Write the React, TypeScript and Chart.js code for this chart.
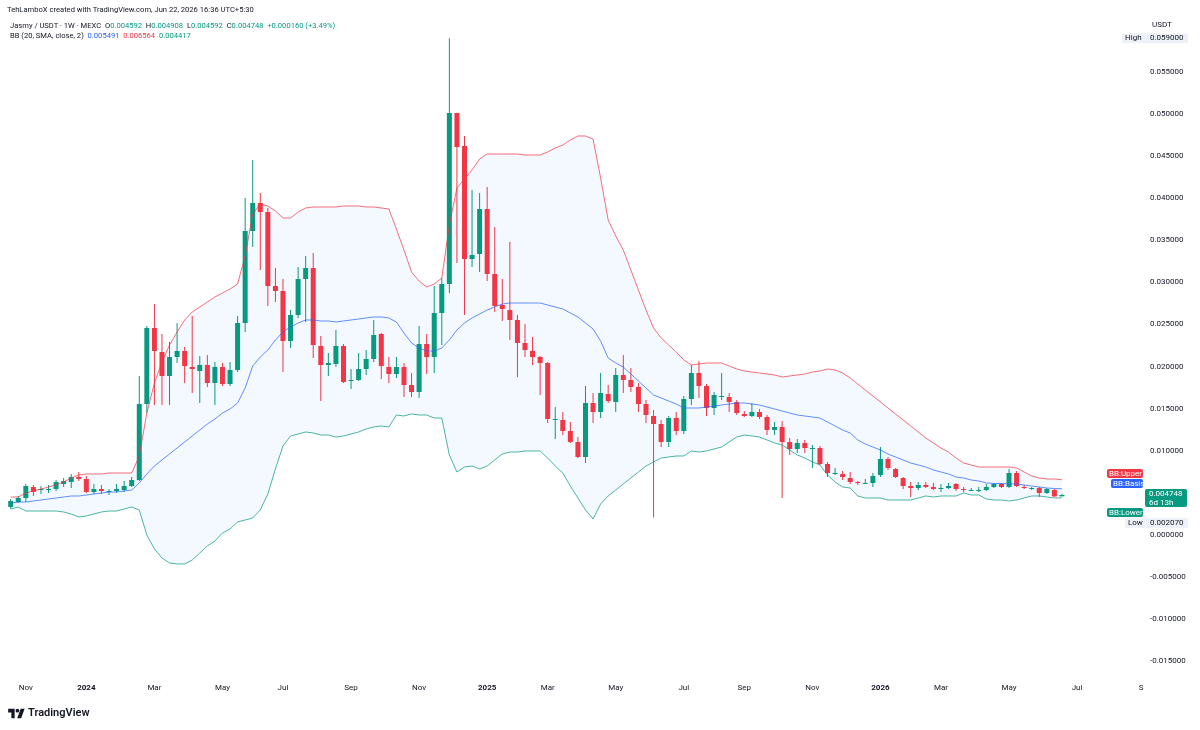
import React, { useEffect, useRef } from "react";
import { Chart, registerables } from "chart.js";

Chart.register(...registerables);

// ---------- DATA ----------
const CREDIT = "TehLamboX created with TradingView.com, Jun 22, 2026 16:36 UTC+5:30";
const SYMBOL = "Jasmy / USDT · 1W · MEXC";
const BB_TITLE = "BB (20, SMA, close, 2)";
const QUOTE = "USDT";
const COUNTDOWN = "6d 13h";
const START_DATE = Date.UTC(2023, 9, 23); // first weekly candle (Monday)
const MONTH_NAMES = ["Jan", "Feb", "Mar", "Apr", "May", "Jun", "Jul", "Aug", "Sep", "Oct", "Nov", "Dec"];

const opens = [
  0.003325, 0.003919, 0.004394, 0.0057, 0.005344, 0.005344, 0.005463, 0.006057, 0.006294, 0.006888,
  0.006651, 0.005107, 0.005463, 0.005225, 0.005225, 0.005344, 0.005819, 0.006532, 0.015558, 0.024584,
  0.021733, 0.018883, 0.02114, 0.021852, 0.019952, 0.019477, 0.020189, 0.018052, 0.019952, 0.017933,
  0.019595, 0.025177, 0.036103, 0.039428, 0.038359, 0.029571, 0.028977, 0.023039, 0.026127, 0.030403,
  0.031709, 0.022446, 0.020189, 0.020308, 0.022446, 0.018289, 0.018408, 0.019714, 0.020902, 0.023871,
  0.019952, 0.01912, 0.019952, 0.017814, 0.016983, 0.022683, 0.02114, 0.026365, 0.029809, 0.050117,
  0.046198, 0.032778, 0.033372, 0.038716, 0.030996, 0.027315, 0.026721, 0.025533, 0.022802, 0.021852,
  0.02114, 0.020427, 0.013657, 0.013657, 0.012351, 0.011045, 0.009263, 0.015676, 0.014607, 0.016745,
  0.015795, 0.019002, 0.018408, 0.017576, 0.015558, 0.014133, 0.013182, 0.011045, 0.013895, 0.012351,
  0.016152, 0.019239, 0.017695, 0.015083, 0.016389, 0.016389, 0.015795, 0.01437, 0.014133, 0.014607,
  0.014014, 0.01247, 0.012826, 0.011045, 0.010213, 0.010926, 0.010332, 0.010332, 0.008432, 0.007363,
  0.007244, 0.006769, 0.006294, 0.006176, 0.006176, 0.007126, 0.009026, 0.007838, 0.006769, 0.005819,
  0.005582, 0.005938, 0.0057, 0.005582, 0.005582, 0.006057, 0.005463, 0.005344, 0.005344, 0.005344,
  0.0057, 0.006057, 0.0057, 0.007363, 0.0057, 0.005582, 0.005582, 0.004988, 0.005344, 0.004592,
];

const highs = [
  0.004275, 0.004632, 0.006057, 0.005938, 0.005819, 0.005938, 0.006532, 0.006769, 0.007244, 0.007482,
  0.007007, 0.006057, 0.005938, 0.005463, 0.006057, 0.006413, 0.006888, 0.018883, 0.024821, 0.027434,
  0.023871, 0.022921, 0.025177, 0.022327, 0.026008, 0.021258, 0.021377, 0.020545, 0.020427, 0.020545,
  0.026008, 0.040022, 0.044535, 0.040616, 0.038834, 0.031709, 0.030403, 0.026721, 0.031828, 0.033134,
  0.03349, 0.023633, 0.021614, 0.024346, 0.022683, 0.019714, 0.021614, 0.021971, 0.025533, 0.02399,
  0.02114, 0.02114, 0.020427, 0.019239, 0.024821, 0.023871, 0.029571, 0.030521, 0.059, 0.05015,
  0.047385, 0.040972, 0.040616, 0.041329, 0.036578, 0.030403, 0.034797, 0.026127, 0.025058, 0.023514,
  0.021258, 0.020545, 0.015201, 0.014607, 0.01342, 0.011638, 0.017695, 0.016864, 0.019239, 0.017814,
  0.019833, 0.021377, 0.019833, 0.018052, 0.016033, 0.014845, 0.013657, 0.014133, 0.014607, 0.016508,
  0.020189, 0.020664, 0.017933, 0.016983, 0.019239, 0.016864, 0.016033, 0.014726, 0.015676, 0.014964,
  0.014251, 0.01342, 0.013539, 0.01152, 0.011401, 0.011282, 0.010688, 0.01057, 0.008669, 0.007957,
  0.007601, 0.007482, 0.006413, 0.006651, 0.007363, 0.010451, 0.009263, 0.007957, 0.006888, 0.006294,
  0.006294, 0.006294, 0.006176, 0.006057, 0.006176, 0.006176, 0.0057, 0.005582, 0.0057, 0.006057,
  0.006176, 0.006176, 0.007838, 0.007601, 0.005938, 0.0057, 0.0057, 0.005582, 0.005463, 0.004908,
];

const lows = [
  0.003088, 0.0038, 0.003919, 0.004632, 0.004869, 0.004988, 0.005225, 0.0057, 0.005582, 0.006413,
  0.004988, 0.004869, 0.004869, 0.00475, 0.004988, 0.005107, 0.0057, 0.006413, 0.014489, 0.015439,
  0.015439, 0.015439, 0.020427, 0.018052, 0.016864, 0.015676, 0.017576, 0.015439, 0.017695, 0.017695,
  0.019358, 0.024108, 0.034203, 0.031471, 0.027196, 0.027671, 0.019358, 0.022208, 0.025771, 0.025296,
  0.021021, 0.015914, 0.018883, 0.019952, 0.018052, 0.017339, 0.018289, 0.019002, 0.020545, 0.018527,
  0.018052, 0.018645, 0.016389, 0.016389, 0.01627, 0.01912, 0.019239, 0.022564, 0.02874, 0.032303,
  0.026127, 0.031828, 0.031234, 0.030165, 0.026483, 0.025415, 0.023158, 0.018764, 0.02114, 0.020189,
  0.016627, 0.013301, 0.011401, 0.011876, 0.010926, 0.009145, 0.008551, 0.013301, 0.013895, 0.015676,
  0.014607, 0.016864, 0.016983, 0.014607, 0.013301, 0.00207, 0.010451, 0.010451, 0.011876, 0.011995,
  0.015439, 0.01627, 0.014133, 0.014251, 0.016033, 0.014607, 0.014251, 0.014014, 0.014014, 0.013776,
  0.011876, 0.011876, 0.004394, 0.009501, 0.009738, 0.009738, 0.007957, 0.008313, 0.006888, 0.007126,
  0.006532, 0.006057, 0.005938, 0.006057, 0.0057, 0.006888, 0.007719, 0.006769, 0.005463, 0.004513,
  0.005344, 0.005582, 0.005344, 0.005107, 0.005463, 0.005225, 0.005107, 0.005225, 0.005107, 0.005225,
  0.005582, 0.005582, 0.005582, 0.0057, 0.005463, 0.005344, 0.004513, 0.004869, 0.004513, 0.004592,
];

const closes = [
  0.004038, 0.004394, 0.005819, 0.005107, 0.005463, 0.005463, 0.006294, 0.006413, 0.006888, 0.006651,
  0.005107, 0.005463, 0.005225, 0.005225, 0.005463, 0.005819, 0.006532, 0.015558, 0.024584, 0.021852,
  0.018883, 0.02114, 0.021852, 0.02007, 0.019714, 0.020189, 0.018052, 0.019952, 0.017933, 0.019595,
  0.025177, 0.036103, 0.039428, 0.038359, 0.029571, 0.028977, 0.023039, 0.026127, 0.030403, 0.031709,
  0.022564, 0.020189, 0.020427, 0.022446, 0.01817, 0.018408, 0.019714, 0.020902, 0.023752, 0.02007,
  0.01912, 0.019952, 0.017814, 0.016983, 0.022683, 0.02114, 0.026365, 0.029809, 0.050117, 0.046079,
  0.032778, 0.033253, 0.038716, 0.030996, 0.027196, 0.02684, 0.025533, 0.022802, 0.021971, 0.02114,
  0.020427, 0.013776, 0.013776, 0.012351, 0.011045, 0.009263, 0.015676, 0.014607, 0.016864, 0.015914,
  0.019002, 0.018408, 0.017576, 0.015558, 0.014251, 0.013182, 0.011045, 0.013895, 0.012351, 0.016152,
  0.019239, 0.017695, 0.015083, 0.016627, 0.016508, 0.015795, 0.014489, 0.014133, 0.014607, 0.014014,
  0.01247, 0.012826, 0.011045, 0.010213, 0.010926, 0.010332, 0.010332, 0.008432, 0.007363, 0.007363,
  0.006888, 0.006294, 0.006176, 0.006176, 0.007007, 0.009026, 0.007957, 0.006888, 0.005819, 0.005582,
  0.005938, 0.0057, 0.005463, 0.005582, 0.005819, 0.005463, 0.005344, 0.005344, 0.005344, 0.0057,
  0.006057, 0.0057, 0.007363, 0.005819, 0.005582, 0.005582, 0.004988, 0.005463, 0.004588, 0.004748,
];

const bbUpper = [
  0.004513, 0.004513, 0.004988, 0.005226, 0.005463, 0.005701, 0.005938, 0.006295, 0.00677, 0.007126,
  0.007245, 0.007245, 0.007245, 0.007363, 0.007363, 0.007363, 0.007363, 0.009382, 0.014489, 0.018052,
  0.020546, 0.022565, 0.024109, 0.025534, 0.026485, 0.027078, 0.027672, 0.028266, 0.028741, 0.029216,
  0.02981, 0.033135, 0.038124, 0.039311, 0.039074, 0.03848, 0.037649, 0.037649, 0.038361, 0.038836,
  0.038955, 0.038955, 0.038955, 0.038955, 0.039074, 0.039074, 0.039074, 0.038955, 0.038955, 0.038836,
  0.038717, 0.036342, 0.033848, 0.031235, 0.030166, 0.029454, 0.02981, 0.030523, 0.036817, 0.041211,
  0.04228, 0.043349, 0.044656, 0.045249, 0.045249, 0.045249, 0.045249, 0.045249, 0.045131, 0.045131,
  0.045131, 0.045487, 0.045962, 0.046318, 0.046912, 0.047387, 0.047387, 0.047031, 0.042399, 0.037411,
  0.035511, 0.033848, 0.031473, 0.029097, 0.026722, 0.024584, 0.023397, 0.022565, 0.021734, 0.020784,
  0.02019, 0.020309, 0.020428, 0.020428, 0.020428, 0.020071, 0.019715, 0.019477, 0.019359, 0.01924,
  0.019121, 0.019002, 0.018765, 0.018884, 0.019002, 0.019121, 0.019359, 0.019477, 0.019715, 0.019596,
  0.01924, 0.018646, 0.017934, 0.017221, 0.016508, 0.015796, 0.015083, 0.014371, 0.013658, 0.012945,
  0.012233, 0.01152, 0.010926, 0.010333, 0.009857, 0.009145, 0.008551, 0.008314, 0.008076, 0.008076,
  0.008076, 0.008076, 0.008076, 0.007957, 0.007482, 0.007007, 0.00677, 0.006651, 0.006651, 0.006564,
];

const bbBasis = [
  0.0038, 0.003919, 0.003919, 0.004038, 0.004157, 0.004276, 0.004394, 0.004513, 0.004632, 0.004632,
  0.004751, 0.004869, 0.004988, 0.005107, 0.005107, 0.005226, 0.005344, 0.006176, 0.007245, 0.008195,
  0.008907, 0.00962, 0.010333, 0.011045, 0.011758, 0.01247, 0.013183, 0.013777, 0.014489, 0.014964,
  0.015677, 0.017458, 0.020071, 0.02114, 0.021972, 0.023159, 0.024109, 0.024703, 0.025178, 0.025534,
  0.025534, 0.025416, 0.025416, 0.025297, 0.025416, 0.025534, 0.025653, 0.025772, 0.025891, 0.025891,
  0.025772, 0.025297, 0.02399, 0.022803, 0.022209, 0.021853, 0.021853, 0.022209, 0.023159, 0.024347,
  0.025178, 0.025772, 0.026247, 0.026722, 0.027078, 0.027435, 0.027553, 0.027553, 0.027553, 0.027553,
  0.027553, 0.027316, 0.027078, 0.026841, 0.026366, 0.025891, 0.025178, 0.024466, 0.02304, 0.021021,
  0.020428, 0.019953, 0.019121, 0.01829, 0.017458, 0.016627, 0.016271, 0.015914, 0.015558, 0.015083,
  0.015083, 0.015083, 0.015202, 0.015321, 0.015439, 0.015558, 0.015677, 0.015677, 0.015558, 0.015439,
  0.015202, 0.014964, 0.014727, 0.014489, 0.014252, 0.014133, 0.014014, 0.013895, 0.01342, 0.012945,
  0.01247, 0.012114, 0.011283, 0.010808, 0.010451, 0.010095, 0.00962, 0.009264, 0.008907, 0.008551,
  0.008314, 0.008076, 0.00772, 0.007482, 0.007245, 0.006888, 0.00677, 0.006532, 0.006413, 0.006176,
  0.006116, 0.006116, 0.006057, 0.006057, 0.005938, 0.005819, 0.005701, 0.005582, 0.005523, 0.005491,
];

const bbLower = [
  0.003088, 0.003325, 0.00285, 0.00285, 0.00285, 0.00285, 0.00285, 0.002732, 0.002494, 0.002138,
  0.002257, 0.002494, 0.002732, 0.00285, 0.00285, 0.003088, 0.003325, 0.002969, 0.0, -0.001663,
  -0.002732, -0.003325, -0.003444, -0.003444, -0.002969, -0.002138, -0.001306, -0.000713, 0.000238, 0.000713,
  0.001544, 0.001781, 0.002019, 0.002969, 0.004869, 0.007838, 0.01057, 0.011758, 0.011995, 0.012233,
  0.012114, 0.011876, 0.011876, 0.011639, 0.011758, 0.011995, 0.012233, 0.012589, 0.012827, 0.012945,
  0.012827, 0.014252, 0.014133, 0.014371, 0.014252, 0.014252, 0.013895, 0.013895, 0.009501, 0.007482,
  0.008076, 0.008195, 0.007838, 0.008195, 0.008907, 0.00962, 0.009857, 0.009857, 0.009976, 0.009976,
  0.009976, 0.009145, 0.008195, 0.007363, 0.005819, 0.004394, 0.002969, 0.0019, 0.003682, 0.004632,
  0.005344, 0.006057, 0.00677, 0.007482, 0.008195, 0.00867, 0.009145, 0.009264, 0.009382, 0.009382,
  0.009976, 0.009857, 0.009976, 0.010214, 0.010451, 0.011045, 0.011639, 0.011876, 0.011758, 0.011639,
  0.011283, 0.010926, 0.010689, 0.010095, 0.009501, 0.009145, 0.00867, 0.008314, 0.007126, 0.006295,
  0.005701, 0.005582, 0.004632, 0.004394, 0.004394, 0.004394, 0.004157, 0.004157, 0.004157, 0.004157,
  0.004394, 0.004632, 0.004513, 0.004632, 0.004632, 0.004632, 0.004988, 0.004751, 0.004751, 0.004276,
  0.004157, 0.004157, 0.004038, 0.004157, 0.004394, 0.004632, 0.004632, 0.004513, 0.004394, 0.004417,
];

const yTickValues = [-0.015, -0.01, -0.005, 0, 0.005, 0.01, 0.015, 0.02, 0.025, 0.03, 0.035, 0.04, 0.045, 0.05, 0.055];

// ---------- STYLE / LAYOUT ----------
const FONT = 'Roboto, "Liberation Sans", Arial, sans-serif';
const TEXT = "#131722";
const UP = "#089981";
const DOWN = "#F23645";
const BLUE = "#2962FF";
const X_MIN = -1.415;
const X_MAX = 144.03;
const Y_MIN = -0.016033;
const Y_MAX = 0.059976;

const WEEK = 7 * 86400000;

function buildMonthTicks() {
  const out: { index: number; label: string; bold: boolean }[] = [];
  let prev = -1;
  for (let i = 0; i <= Math.floor(X_MAX); i++) {
    const d = new Date(START_DATE + i * WEEK);
    const m = d.getUTCMonth();
    if (i > 0 && m !== prev && m % 2 === 0) {
      out.push({ index: i, label: m === 0 ? String(d.getUTCFullYear()) : MONTH_NAMES[m], bold: m === 0 });
    }
    prev = m;
  }
  return out;
}

const zeroPad = (scale: any) => {
  scale.paddingLeft = 0;
  scale.paddingRight = 0;
  scale.paddingTop = 0;
  scale.paddingBottom = 0;
};

const tagPlugin = {
  id: "tvTags",
  afterDraw(chart: any) {
    const ctx: CanvasRenderingContext2D = chart.ctx;
    const yScale = chart.scales.y;
    const n = closes.length;
    ctx.save();
    ctx.textBaseline = "middle";
    ctx.textAlign = "left";
    const box = (x: number, y: number, w: number, h: number, bg: string) => {
      ctx.fillStyle = bg;
      ctx.beginPath();
      (ctx as any).roundRect ? (ctx as any).roundRect(x, y, w, h, 2) : ctx.rect(x, y, w, h);
      ctx.fill();
    };
    ctx.font = `8px ${FONT}`;
    ctx.fillStyle = TEXT;
    ctx.fillText(QUOTE, 1152, 25);
    const hi = Math.max(...highs);
    const yHi = yScale.getPixelForValue(hi);
    box(1122, yHi - 5, 66, 10, "#eef1f7");
    ctx.fillStyle = TEXT;
    ctx.fillText("High", 1125, yHi);
    ctx.fillText(hi.toFixed(6), 1150, yHi);
    const lo = Math.min(...lows);
    const yLo = yScale.getPixelForValue(lo) + 5.5;
    box(1125, yLo - 5, 63, 10, "#eef1f7");
    ctx.fillStyle = TEXT;
    ctx.fillText("Low", 1128, yLo);
    ctx.fillText(lo.toFixed(6), 1150, yLo);
    const tag = (text: string, x: number, yc: number, w: number, bg: string) => {
      box(x, yc - 4.5, w, 9, bg);
      ctx.fillStyle = "#ffffff";
      ctx.fillText(text, x + 2, yc + 0.5);
    };
    tag("BB:Upper", 1107, 473.5, 36, DOWN);
    tag("BB:Basis", 1111, 483.5, 32, BLUE);
    tag("BB:Lower", 1107, 512.5, 36, UP);
    box(1145, 489, 42, 18, UP);
    ctx.fillStyle = "#ffffff";
    ctx.fillText(closes[n - 1].toFixed(6), 1149, 494);
    ctx.fillText(COUNTDOWN, 1149, 502.5);
    ctx.fillStyle = TEXT;
    ctx.textAlign = "center";
    ctx.fillText("S", 1141, 688);
    ctx.restore();
  },
};

export default function App() {
  const ref = useRef<HTMLCanvasElement>(null);
  useEffect(() => {
    const canvas = ref.current;
    if (!canvas) return;
    const idx = opens.map((_, i) => i);
    const colors = idx.map((i) => (closes[i] >= opens[i] ? UP : DOWN));
    const monthTicks = buildMonthTicks();
    const line = (arr: number[], color: string) => ({
      type: "line" as const,
      data: arr.map((v, i) => ({ x: i, y: v })),
      borderColor: color,
      borderWidth: 1,
      pointRadius: 0,
      tension: 0,
      order: 0,
    });
    const chart = new Chart(canvas, {
      type: "bar",
      data: {
        datasets: [
          { ...line(bbUpper, "rgba(242,54,69,0.72)"), fill: false },
          { ...line(bbBasis, "rgba(41,98,255,0.72)"), fill: false },
          { ...line(bbLower, "rgba(8,153,129,0.72)"), fill: "-2", backgroundColor: "rgba(33,150,243,0.055)" },
          {
            type: "bar",
            data: idx.map((i) => ({ x: i, y: [lows[i], highs[i]] })),
            backgroundColor: colors,
            barThickness: 1,
            grouped: false,
            inflateAmount: 0,
            order: 2,
          },
          {
            type: "bar",
            data: idx.map((i) => ({ x: i, y: [opens[i], closes[i]] })),
            backgroundColor: colors,
            barThickness: 5,
            minBarLength: 1,
            grouped: false,
            inflateAmount: 0,
            order: 1,
          },
        ] as any,
      },
      options: {
        responsive: false,
        animation: false,
        events: [],
        layout: { padding: { top: 30, left: 0, right: 0, bottom: 0 } },
        plugins: {
          legend: { display: false },
          tooltip: { enabled: false },
          filler: { drawTime: "beforeDatasetsDraw" },
        } as any,
        scales: {
          x: {
            type: "linear",
            offset: false,
            min: X_MIN,
            max: X_MAX,
            grid: { display: false, drawTicks: false, offset: false },
            border: { display: false },
            afterBuildTicks: (scale: any) => {
              scale.ticks = monthTicks.map((t) => ({ value: t.index }));
            },
            afterFit: (scale: any) => {
              scale.height = 60;
              zeroPad(scale);
            },
            ticks: {
              autoSkip: false,
              maxRotation: 0,
              padding: 13,
              color: TEXT,
              font: (ctx: any) => {
                const t = monthTicks.find((m) => m.index === ctx.tick?.value);
                return { family: FONT, size: 8, weight: t && t.bold ? "bold" : "normal" };
              },
              callback: (value: any) => {
                const t = monthTicks.find((m) => m.index === value);
                return t ? t.label : "";
              },
            },
          },
          y: {
            type: "linear",
            position: "right",
            offset: false,
            min: Y_MIN,
            max: Y_MAX,
            grid: { display: false, drawTicks: false },
            border: { display: false },
            afterBuildTicks: (scale: any) => {
              scale.ticks = yTickValues.map((v) => ({ value: v }));
            },
            afterFit: (scale: any) => {
              scale.width = 100;
              zeroPad(scale);
            },
            ticks: {
              padding: 50,
              color: TEXT,
              font: { family: FONT, size: 8 },
              callback: (value: any) => Number(value).toFixed(6),
            },
          },
        } as any,
      },
      plugins: [tagPlugin],
    });
    return () => chart.destroy();
  }, []);

  const n = closes.length;
  const o = opens[n - 1], h = highs[n - 1], l = lows[n - 1], c = closes[n - 1];
  const prev = closes[n - 2];
  const chg = c - prev;
  const pct = (chg / prev) * 100;
  const sign = chg >= 0 ? "+" : "";
  const valColor = c >= o ? UP : DOWN;

  const textStyle: React.CSSProperties = {
    position: "absolute",
    left: 10,
    fontFamily: FONT,
    fontSize: 7.6,
    lineHeight: "10px",
    color: TEXT,
    whiteSpace: "pre",
  };

  return (
    <div style={{ position: "absolute", left: 0, top: 0, width: 1200, height: 730, background: "#ffffff", overflow: "hidden" }}>
      <canvas ref={ref} width={1200} height={730} style={{ position: "absolute", left: 0, top: 0 }} />
      <div style={{ ...textStyle, left: 7, top: 5 }}>{CREDIT}</div>
      <div style={{ ...textStyle, top: 21 }}>
        <span>{SYMBOL}  </span>
        <span>O</span><span style={{ color: valColor }}>{o.toFixed(6)}</span>
        <span>  H</span><span style={{ color: valColor }}>{h.toFixed(6)}</span>
        <span>  L</span><span style={{ color: valColor }}>{l.toFixed(6)}</span>
        <span>  C</span><span style={{ color: valColor }}>{c.toFixed(6)}</span>
        <span style={{ color: valColor }}>{`  ${sign}${chg.toFixed(6)} (${sign}${pct.toFixed(2)}%)`}</span>
      </div>
      <div style={{ ...textStyle, top: 31 }}>
        <span>{BB_TITLE}  </span>
        <span style={{ color: BLUE }}>{bbBasis[n - 1].toFixed(6)}</span>
        <span style={{ color: DOWN }}>{`  ${bbUpper[n - 1].toFixed(6)}`}</span>
        <span style={{ color: UP }}>{`  ${bbLower[n - 1].toFixed(6)}`}</span>
      </div>
      <div style={{ position: "absolute", left: 8, top: 706, display: "flex", alignItems: "center", gap: 3 }}>
        <svg width="17" height="13" viewBox="0 0 36 28">
          <path d="M14 24H7V12H0V4h14v20z" fill={TEXT} />
          <circle cx="20" cy="8" r="4" fill={TEXT} />
          <path d="M28 24h-8.5l7.5-20h8.5L28 24z" fill={TEXT} />
        </svg>
        <span style={{ fontFamily: FONT, fontSize: 11, fontWeight: 600, color: TEXT, lineHeight: "14px" }}>TradingView</span>
      </div>
    </div>
  );
}
